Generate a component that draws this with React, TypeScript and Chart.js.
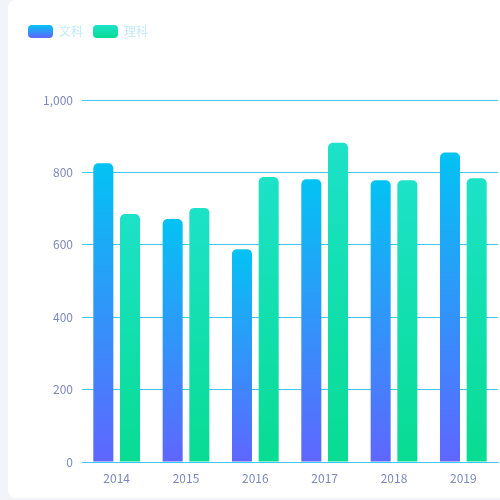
import { useEffect, useRef } from "react"
import { Chart, registerables } from "chart.js"

Chart.register(...registerables)

const years = ["2014", "2015", "2016", "2017", "2018", "2019"]
const arts = [825, 671, 588, 781, 778, 855]
const science = [685, 702, 787, 882, 778, 784]
const seriesNames = ["文科", "理科"]

const FONT = "'Noto Sans CJK SC', 'Noto Sans', sans-serif"

// each bar gets its own top-to-bottom gradient
const barGradient = (top: string, bottom: string) => (ctx: any) => {
  const chart = ctx.chart
  if (!chart.chartArea || ctx.type !== "data") return top
  const y = chart.scales.y
  const g = chart.ctx.createLinearGradient(0, y.getPixelForValue(ctx.raw), 0, y.getPixelForValue(0))
  g.addColorStop(0, top)
  g.addColorStop(1, bottom)
  return g
}

const legendColors = [
  ["#03c3f3", "#5f66ff"],
  ["#1ce2c8", "#08dc92"],
]

// push the plot down below the legend
const legendSpacer = {
  id: "legendSpacer",
  beforeInit(chart: any) {
    const fit = chart.legend.fit
    chart.legend.fit = function () {
      fit.call(this)
      this.height = 85
    }
  },
}

export default function App() {
  const chartRef = useRef<HTMLCanvasElement>(null)
  const chartInstance = useRef<Chart | null>(null)

  useEffect(() => {
    if (!chartRef.current) return
    if (chartInstance.current) chartInstance.current.destroy()

    chartInstance.current = new Chart(chartRef.current, {
      type: "bar",
      data: {
        labels: years,
        datasets: [
          {
            label: seriesNames[0],
            data: arts,
            backgroundColor: barGradient("#03c3f3", "#5f66ff"),
            borderRadius: 5,
            categoryPercentage: 0.77,
            barPercentage: 0.75,
          },
          {
            label: seriesNames[1],
            data: science,
            backgroundColor: barGradient("#1ce2c8", "#08dc92"),
            borderRadius: 5,
            categoryPercentage: 0.77,
            barPercentage: 0.75,
          },
        ],
      },
      plugins: [legendSpacer],
      options: {
        animation: false,
        responsive: true,
        maintainAspectRatio: false,
        locale: "en-US",
        layout: { padding: { top: 15, left: 10, right: 2, bottom: 0 } },
        plugins: {
          tooltip: { enabled: false },
          legend: {
            position: "top",
            align: "start",
            labels: {
              boxWidth: 25,
              boxHeight: 13,
              padding: 10,
              useBorderRadius: true,
              borderRadius: 4,
              color: "#c2ebfa",
              font: { family: FONT, size: 12 },
              generateLabels: (chart: any) => {
                const items = Chart.defaults.plugins.legend.labels.generateLabels(chart)
                items.forEach((item: any, i: number) => {
                  const g = chart.ctx.createLinearGradient(0, 25, 0, 38)
                  g.addColorStop(0, legendColors[i][0])
                  g.addColorStop(1, legendColors[i][1])
                  item.fillStyle = g
                  item.strokeStyle = "rgba(0,0,0,0)"
                  item.lineWidth = 0
                })
                return items
              },
            },
          },
        },
        scales: {
          x: {
            grid: { display: false, drawTicks: false },
            border: { display: true, color: "#3fc6fd", width: 1 },
            ticks: { color: "#7b89bf", padding: 9, font: { family: FONT, size: 12 } },
            afterFit: (scale: any) => {
              scale.height = 36
            },
          },
          y: {
            min: 0,
            max: 1000,
            grid: { color: "#3fc6fd", lineWidth: 1, drawTicks: false },
            border: { display: false },
            ticks: {
              stepSize: 200,
              color: "#7b89bf",
              padding: 9,
              font: { family: FONT, size: 12 },
            },
            afterFit: (scale: any) => {
              scale.width = 64
            },
          },
        },
      },
    })

    return () => {
      if (chartInstance.current) {
        chartInstance.current.destroy()
        chartInstance.current = null
      }
    }
  }, [])

  return (
    <div style={{ position: "fixed", inset: 0, background: "#f3f4f9", overflow: "hidden" }}>
      <div
        style={{
          position: "absolute",
          left: 8,
          top: 0,
          width: 520,
          height: 498,
          background: "#ffffff",
          borderRadius: 8,
        }}
      >
        <div style={{ position: "relative", width: 492, height: 498 }}>
          <canvas ref={chartRef}></canvas>
        </div>
      </div>
    </div>
  )
}
